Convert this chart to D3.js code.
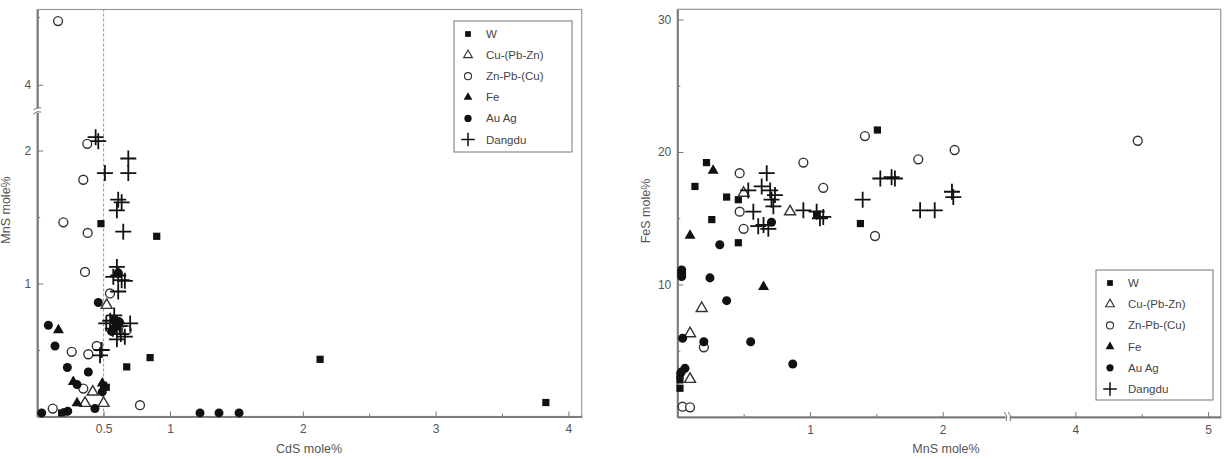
<!DOCTYPE html>
<html>
<head>
<meta charset="utf-8">
<script src="https://cdn.jsdelivr.net/npm/d3@7"></script>
<style>
  body { margin: 0; background: #fff; }
  svg { display: block; font-family: "Liberation Sans", Arial, sans-serif; }
  .axis path, .axis line { stroke: #777; }
  .axis text { fill: #555; font-size: 12px; }
  .axis-title { fill: #555; font-size: 12.5px; }
  .legend text { fill: #444; font-size: 11.5px; }
</style>
</head>
<body>
<svg id="chart" width="1226" height="459"></svg>
<script>
// series names shared by both panels
const seriesNames = ['W', 'Cu-(Pb-Zn)', 'Zn-Pb-(Cu)', 'Fe', 'Au Ag', 'Dangdu'];

// left panel: [CdS mole%, MnS mole%]
const leftW = [[0.48,1.45],[0.90,1.355],[0.85,0.443],[0.674,0.373],[2.13,0.43],[3.83,0.105],[0.50,0.235],[0.52,0.22],[0.184,0.027],[0.21,0.035],[0.60,0.72],[0.57,0.66]];
const leftCu = [[0.523,0.837],[0.418,0.185],[0.36,0.10],[0.50,0.10]];
const leftZn = [[0.157,4.94],[0.377,2.05],[0.347,1.78],[0.197,1.46],[0.38,1.38],[0.36,1.087],[0.548,0.925],[0.26,0.486],[0.385,0.468],[0.448,0.53],[0.347,0.21],[0.774,0.085],[0.117,0.06],[0.674,0.65]];
const leftFe = [[0.16,0.65],[0.272,0.26],[0.30,0.10],[0.49,0.25]];
const leftAu = [[0.46,0.857],[0.084,0.686],[0.134,0.53],[0.227,0.368],[0.385,0.335],[0.30,0.24],[0.435,0.06],[0.034,0.027],[0.23,0.04],[1.226,0.027],[1.369,0.027],[1.52,0.027],[0.61,1.08],[0.58,0.73],[0.60,0.68],[0.62,0.71],[0.56,0.64],[0.49,0.185]];
const leftDangdu = [[0.44,2.10],[0.46,2.07],[0.686,1.94],[0.51,1.83],[0.686,1.83],[0.61,1.63],[0.636,1.61],[0.60,1.55],[0.648,1.39],[0.60,1.125],[0.61,1.06],[0.636,1.025],[0.573,1.05],[0.66,1.02],[0.61,0.94],[0.486,0.50],[0.473,0.46],[0.55,0.72],[0.58,0.76],[0.60,0.70],[0.62,0.68],[0.57,0.66],[0.63,0.62],[0.66,0.60],[0.70,0.70],[0.52,0.70],[0.60,0.58]];

// right panel: [MnS mole%, FeS mole%]
const rightW = [[0.22,19.2],[0.133,17.4],[0.372,16.6],[0.46,16.4],[0.26,14.9],[0.46,13.15],[1.05,15.3],[1.508,21.66],[1.38,14.6],[0.02,3.17],[0.02,2.8],[0.02,2.17]];
const rightCu = [[0.5,16.9],[0.85,15.5],[0.184,8.2],[0.096,6.3],[0.096,2.85]];
const rightZn = [[0.47,18.4],[0.95,19.2],[1.1,17.3],[0.47,15.5],[0.5,14.2],[1.414,21.2],[1.816,19.45],[2.09,20.15],[1.49,13.66],[4.47,20.85],[0.2,5.26],[0.04,0.78],[0.096,0.73]];
const rightFe = [[0.27,18.6],[0.096,13.7],[0.65,9.83]];
const rightAu = [[0.71,14.7],[0.32,13.0],[0.033,11.1],[0.033,10.85],[0.033,10.6],[0.246,10.5],[0.372,8.78],[0.04,5.94],[0.2,5.68],[0.553,5.68],[0.87,4.0],[0.058,3.67],[0.03,3.4]];
const rightDangdu = [[0.535,17.1],[0.636,17.4],[0.674,18.4],[0.70,17.1],[0.736,16.75],[0.724,15.9],[0.573,15.5],[0.71,16.4],[0.61,14.4],[0.686,14.2],[0.65,14.5],[0.95,15.6],[1.05,15.5],[1.075,15.0],[1.10,15.1],[1.53,18.0],[1.615,18.1],[1.64,18.0],[1.397,16.4],[1.83,15.6],[1.94,15.6],[2.07,17.0],[2.08,16.6]];

// tick values
const leftXTicks = [0.5, 1, 2, 3, 4];
const leftXMinor = [1.5, 2.5, 3.5];
const leftYTicks = [1, 2, 4];
const leftYMinor = [0.5, 1.5, 5];
const rightXTicks = [1, 2, 4, 5];
const rightXMinor = [0.5, 1.5, 4.5];
const rightYTicks = [10, 20, 30];
const rightYMinor = [5, 15, 25];

const svg = d3.select('#chart');

// marker drawing per series
const markerPath = {
  'W': d3.symbol(d3.symbolSquare, 52)(),
  'Cu-(Pb-Zn)': d3.symbol(d3.symbolTriangle, 52)(),
  'Zn-Pb-(Cu)': d3.symbol(d3.symbolCircle, 62)(),
  'Fe': d3.symbol(d3.symbolTriangle, 52)(),
  'Au Ag': d3.symbol(d3.symbolCircle, 64)(),
  'Dangdu': 'M-8,0H8M0,-8V8'
};
const openSeries = ['Cu-(Pb-Zn)', 'Zn-Pb-(Cu)'];

function styleMarker(sel, name) {
  if (name === 'Dangdu') {
    sel.attr('fill', 'none').attr('stroke', '#111').attr('stroke-width', 1.8);
  } else if (openSeries.includes(name)) {
    sel.attr('fill', '#fff').attr('stroke', '#333').attr('stroke-width', 1.4);
  } else {
    sel.attr('fill', '#111').attr('stroke', 'none');
  }
}

function drawPanel(cfg) {
  const g = svg.append('g');
  const x = cfg.x, y = cfg.y;
  const [x0, x1] = [x.range()[0], x.range()[x.range().length - 1]];
  const [y0, y1] = [y.range()[0], y.range()[y.range().length - 1]];

  // frame
  g.append('rect')
    .attr('x', x0).attr('y', y1)
    .attr('width', x1 - x0).attr('height', y0 - y1)
    .attr('fill', 'none').attr('stroke', '#999').attr('stroke-width', 1.2);

  if (cfg.refX !== undefined) {
    g.append('line')
      .attr('x1', x(cfg.refX)).attr('x2', x(cfg.refX))
      .attr('y1', y0).attr('y2', y1)
      .attr('stroke', '#888').attr('stroke-width', 0.9)
      .attr('stroke-dasharray', '3,2');
  }

  // axes (ticks point inward)
  const xAxis = d3.axisBottom(x).tickValues(cfg.xTicks).tickSizeInner(-5).tickSizeOuter(0).tickPadding(8).tickFormat(d => d);
  const xMinor = d3.axisBottom(x).tickValues(cfg.xMinor).tickSizeInner(-3).tickSizeOuter(0).tickFormat('');
  const yAxis = d3.axisLeft(y).tickValues(cfg.yTicks).tickSizeInner(-6).tickSizeOuter(0).tickPadding(6).tickFormat(d => d);
  const yMinor = d3.axisLeft(y).tickValues(cfg.yMinor).tickSizeInner(-3).tickSizeOuter(0).tickFormat('');

  [xAxis, xMinor].forEach(a => g.append('g').attr('class', 'axis')
    .attr('transform', `translate(0,${y0})`).call(a)
    .call(s => s.select('.domain').attr('stroke-width', 1.6)));
  [yAxis, yMinor].forEach(a => g.append('g').attr('class', 'axis')
    .attr('transform', `translate(${x0},0)`).call(a)
    .call(s => s.select('.domain').attr('stroke-width', 1.6)));

  // axis break marks
  if (cfg.yBreak !== undefined) {
    const by = y(cfg.yBreak);
    g.append('rect').attr('x', x0 - 3).attr('y', by - 2).attr('width', 6).attr('height', 4).attr('fill', '#fff');
    [-2, 2].forEach(o => g.append('path')
      .attr('d', `M${x0 - 4},${by + o + 1.5} q4,-4 8,-2`)
      .attr('fill', 'none').attr('stroke', '#777').attr('stroke-width', 1));
  }
  if (cfg.xBreak !== undefined) {
    const bx = x(cfg.xBreak);
    g.append('rect').attr('x', bx - 2).attr('y', y0 - 3).attr('width', 4).attr('height', 6).attr('fill', '#fff');
    [-2, 2].forEach(o => g.append('path')
      .attr('d', `M${bx + o - 1.5},${y0 - 5} q4,4 2,9`)
      .attr('fill', 'none').attr('stroke', '#777').attr('stroke-width', 1));
  }

  // axis titles
  g.append('text').attr('class', 'axis-title')
    .attr('x', cfg.xTitlePos[0]).attr('y', cfg.xTitlePos[1])
    .attr('text-anchor', 'middle').text(cfg.xTitle);
  g.append('text').attr('class', 'axis-title')
    .attr('text-anchor', 'middle')
    .attr('transform', `translate(${cfg.yTitlePos[0]},${cfg.yTitlePos[1]}) rotate(-90)`)
    .text(cfg.yTitle);

  // points
  cfg.series.forEach((pts, i) => {
    const name = seriesNames[i];
    g.selectAll(null)
      .data(pts)
      .join('path')
      .attr('d', markerPath[name])
      .attr('transform', d => `translate(${x(d[0])},${y(d[1])})`)
      .call(styleMarker, name);
  });

  // legend
  const lg = g.append('g').attr('class', 'legend')
    .attr('transform', `translate(${cfg.legend[0]},${cfg.legend[1]})`);
  lg.append('rect').attr('width', cfg.legend[2]).attr('height', cfg.legend[3])
    .attr('fill', '#fff').attr('stroke', '#777').attr('stroke-width', 1);
  seriesNames.forEach((name, i) => {
    const yy = 13 + i * cfg.legendStep;
    const scale = name === 'Dangdu' ? 0.85 : 0.8;
    lg.append('path').attr('d', markerPath[name])
      .attr('transform', `translate(14,${yy}) scale(${scale})`)
      .call(styleMarker, name);
    lg.append('text').attr('x', 32).attr('y', yy).attr('dy', '0.35em').text(name);
  });
}

drawPanel({
  x: d3.scaleLinear().domain([0, 4.1]).range([37.2, 581.7]),
  y: d3.scaleLinear().domain([0, 2.3, 3.62, 5.11]).range([416.5, 110.6, 110.6, 9.5]),
  series: [leftW, leftCu, leftZn, leftFe, leftAu, leftDangdu],
  xTicks: leftXTicks, xMinor: leftXMinor,
  yTicks: leftYTicks, yMinor: leftYMinor,
  yBreak: 2.3,
  refX: 0.5,
  xTitle: 'CdS mole%', xTitlePos: [309, 453],
  yTitle: 'MnS mole%', yTitlePos: [10, 210],
  legend: [454, 21, 118, 131], legendStep: 21.1
});

drawPanel({
  x: d3.scaleLinear().domain([0, 2.49, 3.49, 5.095]).range([677.3, 1007.7, 1007.7, 1220.7]),
  y: d3.scaleLinear().domain([0, 30.77]).range([417, 9.3]),
  series: [rightW, rightCu, rightZn, rightFe, rightAu, rightDangdu],
  xTicks: rightXTicks, xMinor: rightXMinor,
  yTicks: rightYTicks, yMinor: rightYMinor,
  xBreak: 2.49,
  xTitle: 'MnS mole%', xTitlePos: [946, 453],
  yTitle: 'FeS mole%', yTitlePos: [650, 211],
  legend: [1096, 270, 117, 130], legendStep: 21.2
});
</script>
</body>
</html>
